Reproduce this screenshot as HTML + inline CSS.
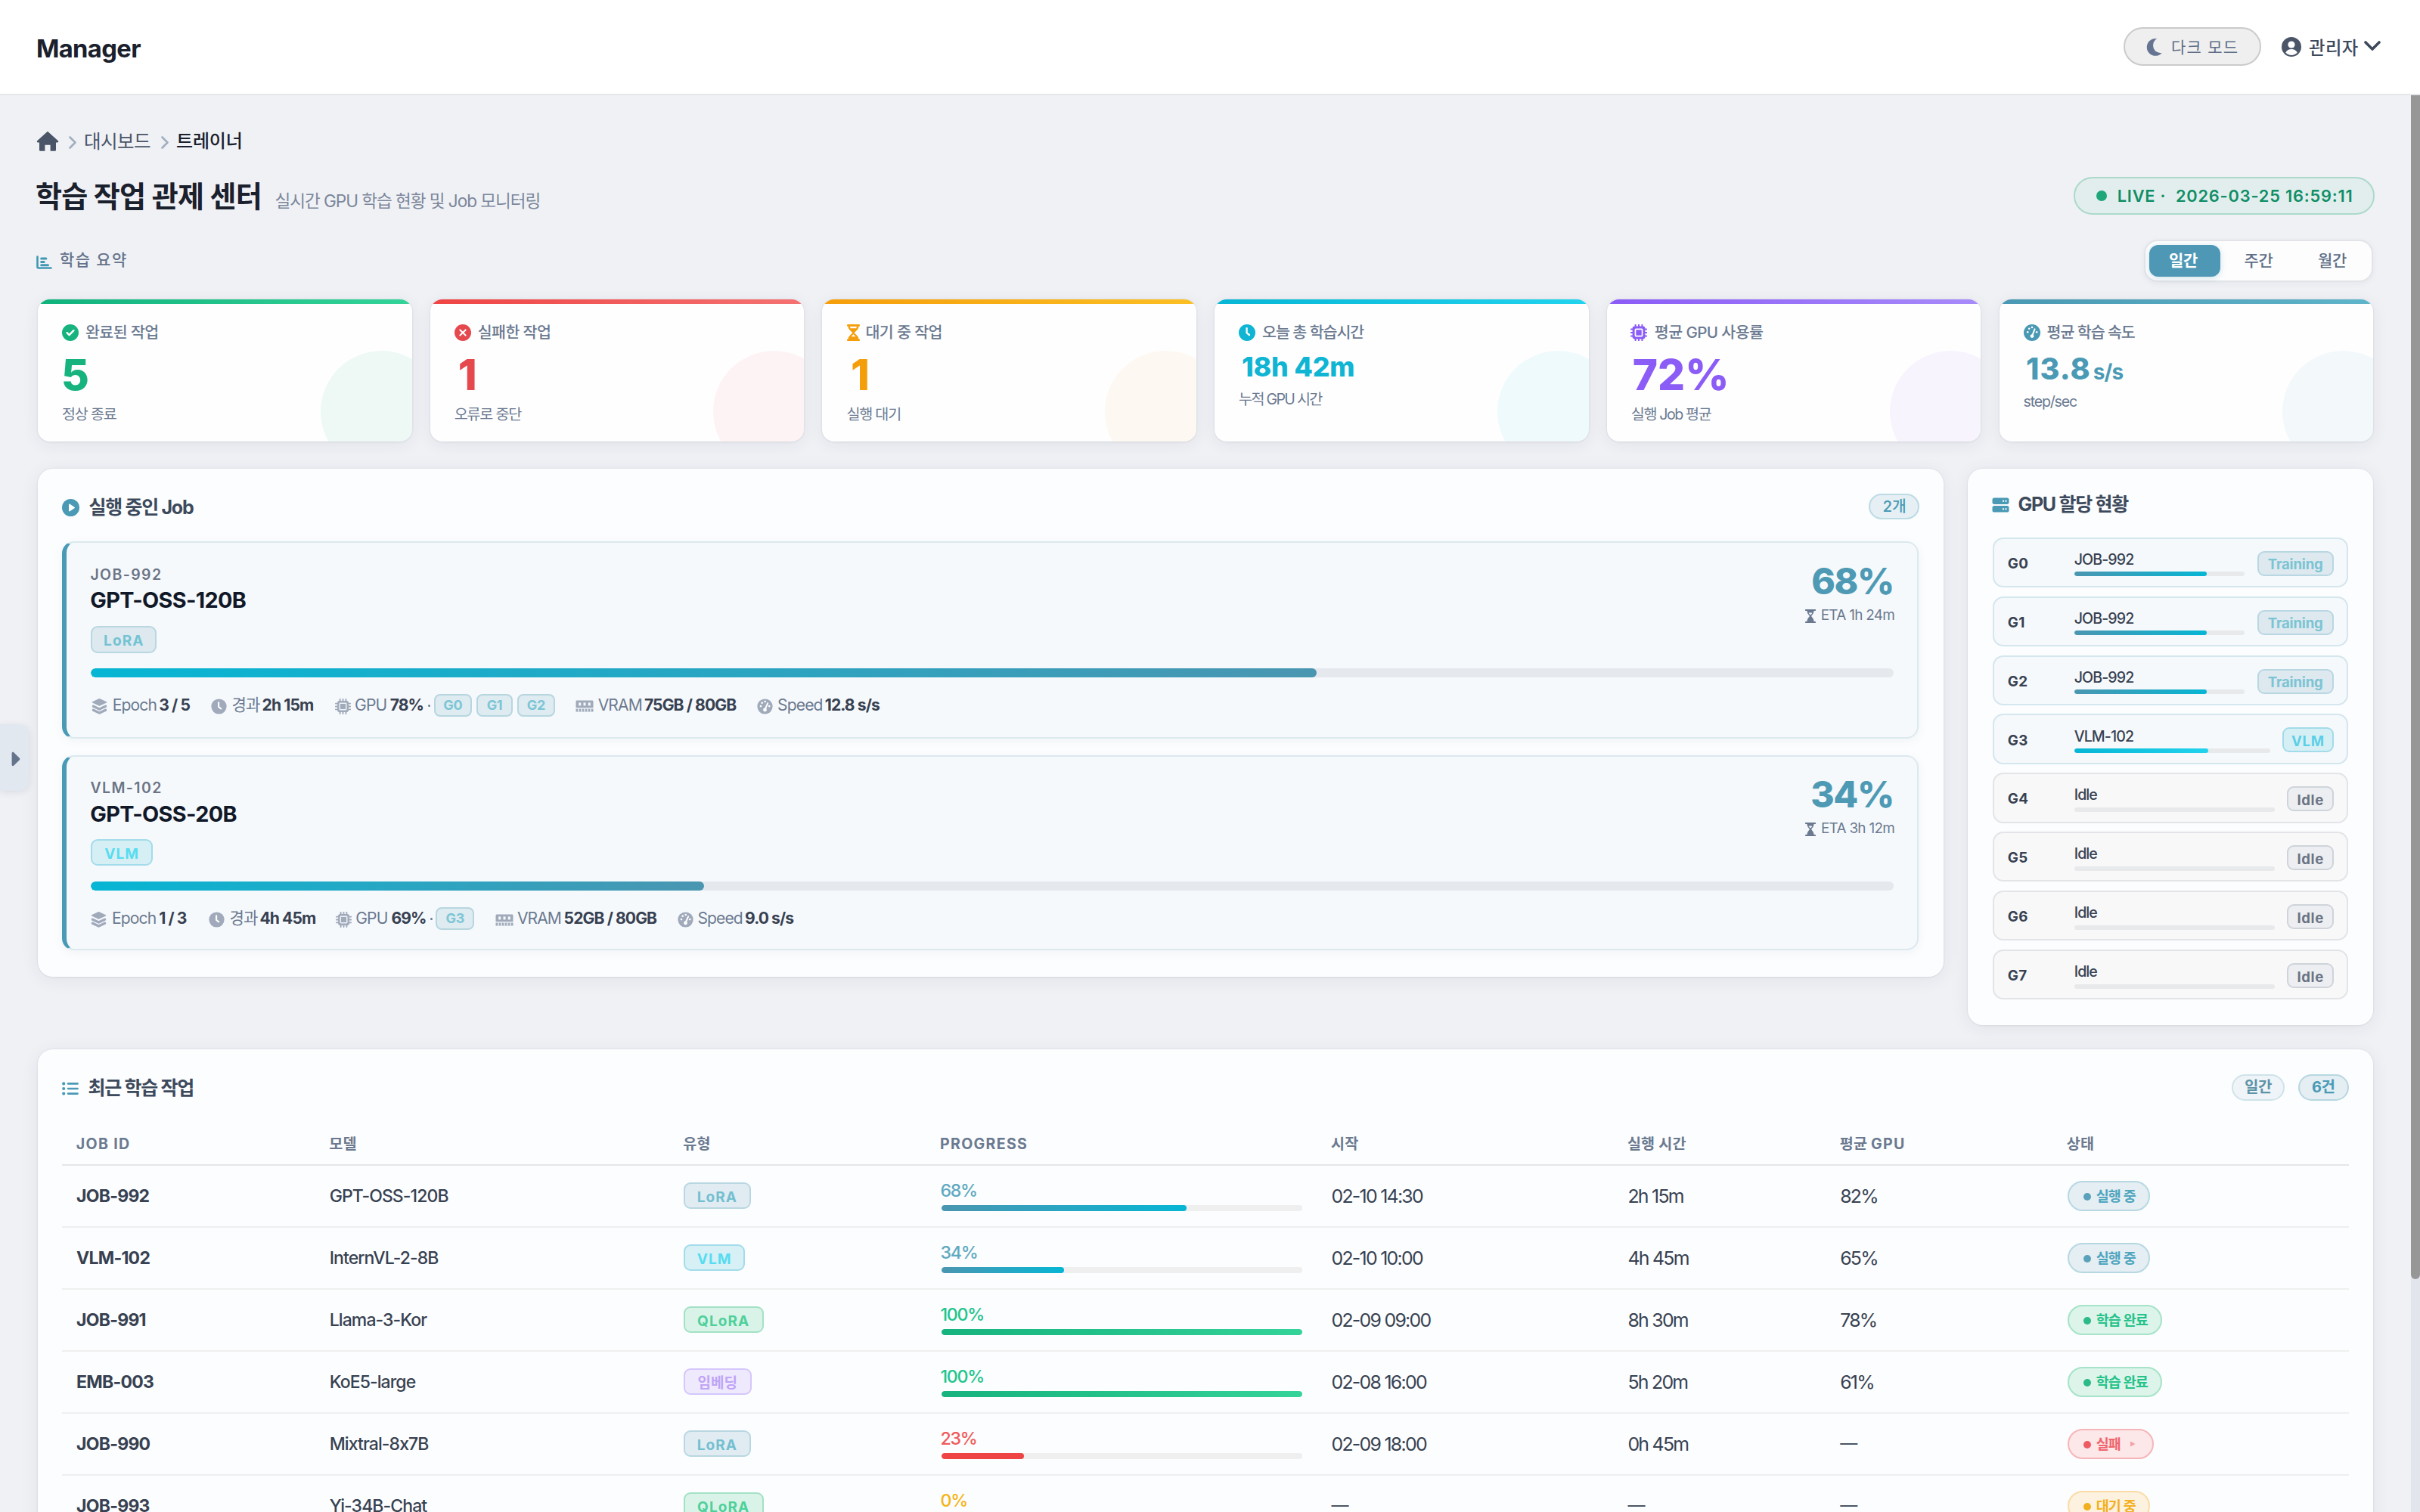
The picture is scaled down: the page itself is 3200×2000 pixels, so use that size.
<!DOCTYPE html>
<html lang="ko">
<head>
<meta charset="utf-8">
<title>학습 작업 관제 센터 - Manager</title>
<style>
*{box-sizing:border-box;margin:0;padding:0}
html,body{width:3200px;height:2000px;overflow:hidden}
@media (max-width:2400px){html{zoom:0.5}}
body{position:relative;background:#f0f1f5;font-family:Inter,"Liberation Sans","Noto Sans CJK KR",sans-serif;color:#1f2937;line-height:1;-webkit-font-smoothing:antialiased}
.a{position:absolute;white-space:nowrap}
svg{display:block}
/* header */
#hdr{position:absolute;left:0;top:0;width:3200px;height:126px;background:#fff;border-bottom:2px solid #e6e7ea}
#logo{left:47.9px;top:48.3px;font-size:32.7px;font-weight:700;letter-spacing:-0.6px;color:#1a202c}
#dark{left:2808px;top:36px;width:182px;height:51px;border:2px solid #cbcbcb;background:#efefef;border-radius:26px}
#dark .t{left:61px;top:14px;font-size:21px;letter-spacing:1.25px;color:#5f6e86}
#admin{left:3053px;top:52px;font-size:23.3px;font-weight:500;letter-spacing:0.5px;color:#3d4a5c}
/* cards */
.card{position:absolute;top:396px;width:494.7px;height:188px;background:#fefeff;border-radius:16px;overflow:hidden;box-shadow:0 0 0 1.5px rgba(0,0,0,0.025),0 4px 22px rgba(30,40,70,0.07),0 1px 3px rgba(30,40,70,0.04)}
.card .bar{position:absolute;left:0;top:0;right:0;height:6px}
.card .circ{position:absolute;left:374px;top:68px;width:161px;height:161px;border-radius:50%}
.card .ic{position:absolute;left:32px;top:33px;width:22px;height:22px}
.card .lb{position:absolute;left:63px;top:33.5px;font-size:20.6px;font-weight:500;letter-spacing:-0.6px;color:#6b7a90;white-space:nowrap}
.card .num{position:absolute;left:31px;top:71.5px;font-size:56.6px;font-weight:800;white-space:nowrap;letter-spacing:-0.5px}
.card .sub{position:absolute;left:32px;top:142.5px;font-size:19.6px;font-weight:400;letter-spacing:-1.2px;color:#6b7a90;white-space:nowrap}
/* panels */
.panel{position:absolute;background:#fcfdfe;border-radius:20px;box-shadow:0 0 0 1.5px rgba(0,0,0,0.025),0 4px 24px rgba(30,40,70,0.07),0 1px 3px rgba(30,40,70,0.04)}
.ptitle{position:absolute;font-size:25px;font-weight:700;letter-spacing:-1.3px;color:#3d4a5c;white-space:nowrap}
.pill{position:absolute;border-radius:40px;text-align:center;white-space:nowrap}
/* job cards */
.job{position:absolute;left:32px;width:2455px;height:260px;background:#f6f9fc;border:2px solid #dce9ef;border-left:6px solid #4a9ab5;border-radius:16px;box-shadow:0 3px 14px rgba(40,90,120,0.06)}
.job .jid{position:absolute;left:32px;font-size:19.5px;font-weight:600;letter-spacing:1.4px;color:#6b7485}
.job .jname{position:absolute;left:32px;font-size:28.8px;font-weight:700;letter-spacing:-0.65px;color:#111827}
.tbadge{position:absolute;border:2px solid;border-radius:9px;font-weight:700;text-align:center;letter-spacing:1.4px}
.job .track{position:absolute;left:32px;height:12px;border-radius:6px;background:#e5e8ec;overflow:hidden}
.job .fill{position:absolute;left:0;top:0;bottom:0;border-radius:6px;background:linear-gradient(90deg,#06b6d4,#4a96b1)}
.job .pct{position:absolute;right:32px;font-size:47.9px;font-weight:800;letter-spacing:-1.4px;color:#4e9ab5;text-align:right}
.job .eta{position:absolute;right:30px;font-size:18.9px;font-weight:400;letter-spacing:-0.7px;color:#6b7a90;display:flex;align-items:center;gap:6.7px}
.mt{font-size:21.1px;letter-spacing:-0.9px;color:#6b7a90}
.mb{font-size:21.1px;font-weight:700;letter-spacing:-0.9px;color:#374151}
.gchip{height:29.4px;border:2px solid #b7d6e0;background:#deebf0;border-radius:8px;color:#7cc6d6;font-weight:700;font-size:18px;line-height:25.4px;text-align:center;letter-spacing:-0.3px}
/* gpu rows */
.grow{position:absolute;left:32.7px;width:470.7px;height:66.3px;border:2px solid #d4e6ee;background:#f6f9fb;border-radius:14px}
.grow.idle{border-color:#e2e4e7;background:#f8f8f9}
.grow .gl{position:absolute;left:18px;top:24.2px;font-size:18.8px;font-weight:700;color:#374151;letter-spacing:0.4px}
.grow .gj{position:absolute;left:106px;top:18.2px;font-size:19.6px;font-weight:500;color:#374151;letter-spacing:-0.9px}
.grow .gt{position:absolute;left:106px;top:43.5px;height:6px;border-radius:3px;background:#e8e9eb;overflow:hidden}
.grow .gf{position:absolute;left:0;top:0;bottom:0;border-radius:3px}
.grow .gb{position:absolute;top:16px;height:33px;border:2px solid;border-radius:9px;font-size:18.6px;font-weight:700;text-align:center;line-height:29px;padding-top:1.6px;letter-spacing:-0.2px}
/* table */
.th{position:absolute;top:1504.3px;font-size:19.6px;font-weight:700;letter-spacing:1.3px;color:#6b7a90;white-space:nowrap}
.td{position:absolute;font-size:23px;color:#374151;white-space:nowrap}
.rline{position:absolute;left:81.6px;width:3024px;height:2px;background:#efefef}
</style>
</head>
<body>
<!-- HEADER -->
<div id="hdr">
  <div class="a" id="logo">Manager</div>
  <div class="a" id="dark">
    <svg class="a" style="left:28px;top:12px" width="24" height="26" viewBox="0 0 24 26"><defs><mask id="mm"><rect width="24" height="26" fill="#fff"/><circle cx="19.2" cy="10" r="10.2" fill="#000"/></mask></defs><circle cx="12.2" cy="12.4" r="11.4" fill="#647491" mask="url(#mm)"/></svg>
    <div class="a t">다크 모드</div>
  </div>
  <svg class="a" style="left:3017px;top:49px" width="26" height="26" viewBox="0 0 26 26"><circle cx="13" cy="13" r="13" fill="#4a5568"/><circle cx="13" cy="10" r="4.6" fill="#fff"/><path d="M5.2 20.6C7 17.3 9.8 15.9 13 15.9S19 17.3 20.8 20.6A10.6 10.6 0 0 1 5.2 20.6Z" fill="#fff"/></svg>
  <div class="a" id="admin">관리자</div>
  <svg class="a" style="left:3126px;top:54px" width="22" height="13" viewBox="0 0 22 13"><path d="M2 2L11 11L20 2" fill="none" stroke="#3d4a5c" stroke-width="3.6" stroke-linecap="round" stroke-linejoin="round"/></svg>
</div>

<!-- BREADCRUMB -->
<svg class="a" style="left:47.5px;top:172.5px" width="30" height="27" viewBox="0 0 30 27"><path d="M15 0.8L1.2 13.2c-0.9 0.8-0.3 2.2 0.9 2.2H4v9.8c0 0.9 0.7 1.6 1.6 1.6h5.8v-8h7.2v8h5.8c0.9 0 1.6-0.7 1.6-1.6V15.4h1.9c1.2 0 1.8-1.4 0.9-2.2Z" fill="#4a5568"/></svg>
<svg class="a" style="left:90px;top:179px" width="12" height="19" viewBox="0 0 12 19"><path d="M2.5 2.5L9.5 9.5L2.5 16.5" fill="none" stroke="#a0aec0" stroke-width="2.6" stroke-linecap="round" stroke-linejoin="round"/></svg>
<div class="a" style="left:111px;top:175px;font-size:24.5px;letter-spacing:-0.5px;color:#4a5568">대시보드</div>
<svg class="a" style="left:211.5px;top:179px" width="12" height="19" viewBox="0 0 12 19"><path d="M2.5 2.5L9.5 9.5L2.5 16.5" fill="none" stroke="#a0aec0" stroke-width="2.6" stroke-linecap="round" stroke-linejoin="round"/></svg>
<div class="a" style="left:233px;top:175px;font-size:24px;font-weight:500;letter-spacing:-0.2px;color:#1a202c">트레이너</div>

<!-- TITLE -->
<div class="a" style="left:47px;top:241px;font-size:38.1px;font-weight:700;letter-spacing:-0.75px;color:#1a202c">학습 작업 관제 센터</div>
<div class="a" style="left:363.5px;top:254.5px;font-size:22.6px;letter-spacing:-1.05px;color:#7b879b">실시간 GPU 학습 현황 및 Job 모니터링</div>
<div class="pill" style="left:2742.4px;top:234px;width:397.3px;height:49.7px;background:#e2eeee;border:2px solid #acd9c9">
  <div class="a" style="left:28px;top:22.5px;width:14px;height:14px;margin-top:-7px;border-radius:50%;background:#1fa679"></div>
  <div class="a" style="left:55.3px;top:13.1px;font-size:21.8px;font-weight:600;letter-spacing:0.8px;color:#108e66">LIVE ·&nbsp; 2026-03-25 16:59:11</div>
</div>

<!-- SECTION LABEL -->
<svg class="a" style="left:47.5px;top:337.5px" width="21" height="18" viewBox="0 0 21 18"><path d="M1.5 1.5V15c0 0.9 0.6 1.5 1.5 1.5H19.5" fill="none" stroke="#3f98b4" stroke-width="2.6" stroke-linecap="round"/><rect x="5.2" y="2.6" width="9.2" height="3" rx="1.5" fill="#3f98b4"/><rect x="5.2" y="6.9" width="6.4" height="3" rx="1.5" fill="#3f98b4"/><rect x="5.2" y="11.2" width="11.8" height="3" rx="1.5" fill="#3f98b4"/></svg>
<div class="a" style="left:79px;top:333.5px;font-size:20.9px;font-weight:500;letter-spacing:1.45px;color:#64738b">학습 요약</div>
<div class="a" style="left:2835px;top:316.8px;width:303.4px;height:55.8px;background:#fdfdfe;border:2px solid #e2e4e8;border-radius:18px;box-shadow:0 2px 8px rgba(30,40,70,0.05)">
  <div class="a" style="left:5px;top:5.2px;width:94px;height:42px;background:#4e98b5;border-radius:12px;box-shadow:0 2px 8px rgba(78,152,181,0.25)"></div>
  <div class="a" style="left:31px;top:15px;font-size:21px;font-weight:600;color:#fff;letter-spacing:-0.3px">일간</div>
  <div class="a" style="left:130.5px;top:15px;font-size:21px;font-weight:500;color:#5f6e86;letter-spacing:-0.3px">주간</div>
  <div class="a" style="left:228px;top:15px;font-size:21px;font-weight:500;color:#5f6e86;letter-spacing:-0.3px">월간</div>
</div>

<!-- STAT CARDS -->
<div class="card" style="left:50px">
  <div class="bar" style="background:linear-gradient(90deg,#10b27c,#34d399)"></div>
  <div class="circ" style="background:rgba(16,178,124,0.065)"></div>
  <svg class="ic" viewBox="0 0 22 22"><circle cx="11" cy="11" r="11" fill="#16b37e"/><path d="M6.6 11.2l3 3 5.8-6" fill="none" stroke="#fff" stroke-width="2.4" stroke-linecap="round" stroke-linejoin="round"/></svg>
  <div class="lb">완료된 작업</div>
  <div class="num" style="color:#16b37e">5</div>
  <div class="sub">정상 종료</div>
</div>
<div class="card" style="left:568.7px">
  <div class="bar" style="background:linear-gradient(90deg,#ef4444,#f47272)"></div>
  <div class="circ" style="background:rgba(239,68,68,0.06)"></div>
  <svg class="ic" viewBox="0 0 22 22"><circle cx="11" cy="11" r="11" fill="#e5484d"/><path d="M7.4 7.4l7.2 7.2M14.6 7.4l-7.2 7.2" fill="none" stroke="#fff" stroke-width="2.1" stroke-linecap="round"/></svg>
  <div class="lb">실패한 작업</div>
  <div class="num" style="color:#e5484d;left:37px">1</div>
  <div class="sub">오류로 중단</div>
</div>
<div class="card" style="left:1087.4px">
  <div class="bar" style="background:linear-gradient(90deg,#f59e0b,#fbbf24)"></div>
  <div class="circ" style="background:rgba(245,158,11,0.06)"></div>
  <svg class="ic" style="left:32.4px;top:32.7px;width:17px;height:22.3px" viewBox="0 0 17 22.3"><rect x="0" y="0" width="17" height="2.7" rx="1.3" fill="#f59e0b"/><rect x="0" y="19.6" width="17" height="2.7" rx="1.3" fill="#f59e0b"/><path d="M1.4 2.4H15.6C15.6 6.5 11.6 8.6 9.7 11.15 11.6 13.7 15.6 15.8 15.6 19.9H1.4C1.4 15.8 5.4 13.7 7.3 11.15 5.4 8.6 1.4 6.5 1.4 2.4Z" fill="#f59e0b"/><rect x="4.3" y="3" width="8.3" height="2.3" rx="0.6" fill="#fff"/><path d="M8.5 13.2L11.4 16.3H5.6Z" fill="#fff"/></svg>
  <div class="lb" style="left:57px">대기 중 작업</div>
  <div class="num" style="color:#f59e0b;left:37.5px">1</div>
  <div class="sub">실행 대기</div>
</div>
<div class="card" style="left:1606.1px">
  <div class="bar" style="background:linear-gradient(90deg,#06b6d4,#22d3ee)"></div>
  <div class="circ" style="background:rgba(6,182,212,0.06)"></div>
  <svg class="ic" viewBox="0 0 22 22"><circle cx="11" cy="11" r="11" fill="#0fb5d3"/><path d="M10.6 5.2v6.2l3.4 2.6" fill="none" stroke="#fff" stroke-width="2.3" stroke-linecap="round" stroke-linejoin="round"/></svg>
  <div class="lb" style="letter-spacing:-1.05px">오늘 총 학습시간</div>
  <div class="num" style="top:72px;font-size:35.8px;left:35.8px;letter-spacing:-0.2px;color:#0fb5d3">18h 42m</div>
  <div class="sub" style="top:123px;letter-spacing:-1.7px">누적 GPU 시간</div>
</div>
<div class="card" style="left:2124.8px">
  <div class="bar" style="background:linear-gradient(90deg,#8b5cf6,#a78bfa)"></div>
  <div class="circ" style="background:rgba(139,92,246,0.06)"></div>
  <svg class="ic" style="left:31px" viewBox="0 0 22 22"><rect x="2.6" y="2.6" width="16.8" height="16.8" rx="2.8" fill="#8b5cf6"/><rect x="5.6" y="5.6" width="10.8" height="10.8" rx="1.6" fill="#fff"/><rect x="7.3" y="7.3" width="7.4" height="7.4" fill="#8b5cf6"/><path d="M6.6 0.8v3M11 0.8v3M15.4 0.8v3M6.6 18.2v3M11 18.2v3M15.4 18.2v3M0.8 6.6h3M0.8 11h3M0.8 15.4h3M18.2 6.6h3M18.2 11h3M18.2 15.4h3" stroke="#8b5cf6" stroke-width="2" stroke-linecap="round"/></svg>
  <div class="lb">평균 GPU 사용률</div>
  <div class="num" style="color:#8b5cf6;letter-spacing:0px;left:34px">72%</div>
  <div class="sub" style="letter-spacing:-1.4px">실행 Job 평균</div>
</div>
<div class="card" style="left:2643.5px">
  <div class="bar" style="background:linear-gradient(90deg,#4a98b3,#5fb5c9)"></div>
  <div class="circ" style="background:rgba(74,152,179,0.06)"></div>
  <svg class="ic" viewBox="0 0 22 22"><circle cx="11" cy="11" r="11" fill="#4a98b3"/><circle cx="5.2" cy="10.3" r="1.3" fill="#fff"/><circle cx="7.2" cy="5.8" r="1.3" fill="#fff"/><circle cx="11" cy="4" r="1.3" fill="#fff"/><circle cx="17.2" cy="10.3" r="1.3" fill="#fff"/><path d="M11.2 15.2L14.6 6.4" stroke="#fff" stroke-width="2" stroke-linecap="round"/><circle cx="11" cy="15.6" r="2.4" fill="#fff"/></svg>
  <div class="lb" style="letter-spacing:-1.05px">평균 학습 속도</div>
  <div class="num" style="top:73.4px;font-size:39.5px;left:35.6px;letter-spacing:1px;color:#4b9ab5">13.8<span style="font-size:28px;font-weight:700;letter-spacing:-0.8px;margin-left:3px">s/s</span></div>
  <div class="sub" style="top:125.8px;font-size:19.6px;letter-spacing:-1.2px">step/sec</div>
</div>

<!-- RUNNING JOBS PANEL -->
<div class="panel" style="left:50px;top:620px;width:2519.6px;height:671.6px">
  <svg class="a" style="left:31.7px;top:40.4px" width="23" height="23" viewBox="0 0 23 23"><circle cx="11.5" cy="11.5" r="11.5" fill="#4a9ab5"/><path d="M9 7.2v8.6c0 0.6 0.6 0.9 1.1 0.6l6.6-4.3c0.4-0.3 0.4-0.9 0-1.2L10.1 6.6C9.6 6.3 9 6.6 9 7.2Z" fill="#fff"/></svg>
  <div class="ptitle" style="left:67.5px;top:39.3px">실행 중인 Job</div>
  <div class="pill" style="left:2420.6px;top:32.7px;width:67px;height:34.7px;background:#e6eff4;border:2px solid #bcdbe4;font-size:20.4px;font-weight:500;color:#4a9ab5;line-height:30.7px;letter-spacing:0px;padding-left:2px">2개</div>
</div>
<div class="job" style="left:82.1px;top:716.2px;height:260.5px">
  <div class="jid" style="left:31.3px;top:32.4px">JOB-992</div>
  <div class="jname" style="left:31.1px;top:62.3px">GPT-OSS-120B</div>
  <div class="tbadge" style="left:32.3px;top:110.0px;width:86.8px;height:35.4px;background:#dde9ef;border-color:#b8d7e2;color:#73c3d3;font-size:19px;line-height:31.4px;padding-top:1.5px;letter-spacing:1.1px">LoRA</div>
  <div class="track" style="left:32.3px;top:165.8px;width:2383.3px"><div class="fill" style="width:68%"></div></div>
  <div class="pct" style="right:31.3px;top:27.8px">68%</div>
  <div class="eta" style="right:30.0px;top:87.1px"><svg width="14" height="18" viewBox="0 0 14 18"><path d="M1 1h12M1 17h12" stroke="#6b7a90" stroke-width="2.2" stroke-linecap="round"/><path d="M2.4 1.8h9.2c0 3.4-2.2 5.2-3.5 7.2 1.3 2 3.5 3.8 3.5 7.2H2.4c0-3.4 2.2-5.2 3.5-7.2C4.6 7 2.4 5.2 2.4 1.8Z" fill="#6b7a90"/><path d="M4.6 4.4h4.8c-0.5 1.3-1.4 2.2-2.4 3.2-1-1-1.9-1.9-2.4-3.2Z" fill="#f6f9fc"/></svg>ETA 1h 24m</div>
  <div class="a" style="left:32.7px;top:205.8px"><svg width="21" height="21" viewBox="0 0 20.2 21"><path d="M10.1 0.6L19.2 4.9 10.1 9.3 1 4.9Z" fill="#a0aabb" stroke="#a0aabb" stroke-width="1.2" stroke-linejoin="round"/><path d="M2 10.3L10.1 14.1 18.2 10.3" fill="none" stroke="#a0aabb" stroke-width="3.3" stroke-linecap="round" stroke-linejoin="round"/><path d="M2 15.2L10.1 19 18.2 15.2" fill="none" stroke="#a0aabb" stroke-width="3.4" stroke-linecap="round" stroke-linejoin="round"/></svg></div>
  <div class="a mt" style="left:60.6px;top:203.5px">Epoch</div>
  <div class="a mb" style="left:122.2px;top:203.5px">3 / 5</div>
  <div class="a" style="left:191.2px;top:205.8px"><svg width="21" height="21" viewBox="0 0 21 21"><circle cx="10.5" cy="10.5" r="10.1" fill="#a0aabb"/><path d="M10.1 5.3v5.7l3.1 2.3" fill="none" stroke="#fff" stroke-width="2.1" stroke-linecap="round" stroke-linejoin="round"/></svg></div>
  <div class="a mt" style="left:218.4px;top:203.5px">경과</div>
  <div class="a mb" style="left:258.5px;top:203.5px">2h 15m</div>
  <div class="a" style="left:354.8px;top:205.8px"><svg width="21" height="21" viewBox="0 0 21 21"><rect x="3.1" y="3.1" width="14.8" height="14.8" rx="2.6" fill="#a0aabb"/><rect x="5.5" y="5.5" width="10" height="10" rx="1.4" fill="#eef2f6"/><rect x="7" y="7" width="7" height="7" fill="#a0aabb"/><path d="M6.6 0.9v3M10.5 0.9v3M14.4 0.9v3M6.6 17.1v3M10.5 17.1v3M14.4 17.1v3M0.9 6.6h3M0.9 10.5h3M0.9 14.4h3M17.1 6.6h3M17.1 10.5h3M17.1 14.4h3" stroke="#a0aabb" stroke-width="1.9" stroke-linecap="round"/></svg></div>
  <div class="a mt" style="left:381.0px;top:203.5px">GPU</div>
  <div class="a mb" style="left:427.6px;top:203.5px">78%</div>
  <div class="a" style="left:477.9px;top:214.0px;width:3px;height:3px;border-radius:50%;background:#6b7a90"></div>
  <div class="a gchip" style="left:485.9px;top:200.0px;width:49.8px">G0</div>
  <div class="a gchip" style="left:542.1px;top:200.0px;width:47.6px">G1</div>
  <div class="a gchip" style="left:596.0px;top:200.0px;width:49.8px">G2</div>
  <div class="a" style="left:673.3px;top:208.3px"><svg width="24" height="16" viewBox="0 0 24 16"><path d="M0.5 2C0.5 1.2 1.2 0.5 2 0.5h20c0.8 0 1.5 0.7 1.5 1.5v8.2H0.5Z" fill="#a0aabb"/><rect x="4.2" y="3.4" width="3" height="4" fill="#f6f9fc"/><rect x="10.5" y="3.4" width="3" height="4" fill="#f6f9fc"/><rect x="16.8" y="3.4" width="3" height="4" fill="#f6f9fc"/><path d="M0.5 11.6h23v3.9H0.5Z" fill="#a0aabb"/><path d="M4 11.6v4M8 11.6v4M12 11.6v4M16 11.6v4M20 11.6v4" stroke="#f6f9fc" stroke-width="1.3"/></svg></div>
  <div class="a mt" style="left:702.6px;top:203.5px">VRAM</div>
  <div class="a mb" style="left:763.8px;top:203.5px">75GB / 80GB</div>
  <div class="a" style="left:912.9px;top:205.8px"><svg width="21" height="21" viewBox="0 0 22 22"><circle cx="11" cy="11" r="10.6" fill="#a0aabb"/><circle cx="5.2" cy="10.6" r="1.4" fill="#fff"/><circle cx="7" cy="6" r="1.4" fill="#fff"/><circle cx="11.2" cy="4.2" r="1.4" fill="#fff"/><circle cx="17" cy="10.6" r="1.4" fill="#fff"/><path d="M11 15.2L14.8 6.6" stroke="#fff" stroke-width="2.1" stroke-linecap="round"/><circle cx="11" cy="15.6" r="2.5" fill="#fff"/></svg></div>
  <div class="a mt" style="left:940.0px;top:203.5px">Speed</div>
  <div class="a mb" style="left:1002.6px;top:203.5px">12.8 s/s</div>
</div>
<div class="job" style="left:82.1px;top:999.3px;height:258px">
  <div class="jid" style="left:31.3px;top:31.4px">VLM-102</div>
  <div class="jname" style="left:31.1px;top:61.3px">GPT-OSS-20B</div>
  <div class="tbadge" style="left:32.3px;top:109.0px;width:81.6px;height:34.4px;background:#d6eff5;border-color:#a2dcea;color:#58dcf0;font-size:19px;line-height:30.4px;padding-top:2.4px;letter-spacing:1.1px">VLM</div>
  <div class="track" style="left:32.3px;top:164.8px;width:2383.3px"><div class="fill" style="width:34%"></div></div>
  <div class="pct" style="right:31.3px;top:26.8px">34%</div>
  <div class="eta" style="right:30.0px;top:86.1px"><svg width="14" height="18" viewBox="0 0 14 18"><path d="M1 1h12M1 17h12" stroke="#6b7a90" stroke-width="2.2" stroke-linecap="round"/><path d="M2.4 1.8h9.2c0 3.4-2.2 5.2-3.5 7.2 1.3 2 3.5 3.8 3.5 7.2H2.4c0-3.4 2.2-5.2 3.5-7.2C4.6 7 2.4 5.2 2.4 1.8Z" fill="#6b7a90"/><path d="M4.6 4.4h4.8c-0.5 1.3-1.4 2.2-2.4 3.2-1-1-1.9-1.9-2.4-3.2Z" fill="#f6f9fc"/></svg>ETA 3h 12m</div>
  <div class="a" style="left:32.3px;top:204.8px"><svg width="21" height="21" viewBox="0 0 20.2 21"><path d="M10.1 0.6L19.2 4.9 10.1 9.3 1 4.9Z" fill="#a0aabb" stroke="#a0aabb" stroke-width="1.2" stroke-linejoin="round"/><path d="M2 10.3L10.1 14.1 18.2 10.3" fill="none" stroke="#a0aabb" stroke-width="3.3" stroke-linecap="round" stroke-linejoin="round"/><path d="M2 15.2L10.1 19 18.2 15.2" fill="none" stroke="#a0aabb" stroke-width="3.4" stroke-linecap="round" stroke-linejoin="round"/></svg></div>
  <div class="a mt" style="left:59.9px;top:202.5px">Epoch</div>
  <div class="a mb" style="left:122.1px;top:202.5px">1 / 3</div>
  <div class="a" style="left:187.6px;top:204.8px"><svg width="21" height="21" viewBox="0 0 21 21"><circle cx="10.5" cy="10.5" r="10.1" fill="#a0aabb"/><path d="M10.1 5.3v5.7l3.1 2.3" fill="none" stroke="#fff" stroke-width="2.1" stroke-linecap="round" stroke-linejoin="round"/></svg></div>
  <div class="a mt" style="left:215.3px;top:202.5px">경과</div>
  <div class="a mb" style="left:255.3px;top:202.5px">4h 45m</div>
  <div class="a" style="left:355.7px;top:204.8px"><svg width="21" height="21" viewBox="0 0 21 21"><rect x="3.1" y="3.1" width="14.8" height="14.8" rx="2.6" fill="#a0aabb"/><rect x="5.5" y="5.5" width="10" height="10" rx="1.4" fill="#eef2f6"/><rect x="7" y="7" width="7" height="7" fill="#a0aabb"/><path d="M6.6 0.9v3M10.5 0.9v3M14.4 0.9v3M6.6 17.1v3M10.5 17.1v3M14.4 17.1v3M0.9 6.6h3M0.9 10.5h3M0.9 14.4h3M17.1 6.6h3M17.1 10.5h3M17.1 14.4h3" stroke="#a0aabb" stroke-width="1.9" stroke-linecap="round"/></svg></div>
  <div class="a mt" style="left:382.2px;top:202.5px">GPU</div>
  <div class="a mb" style="left:429.3px;top:202.5px">69%</div>
  <div class="a" style="left:480.9px;top:213.0px;width:3px;height:3px;border-radius:50%;background:#6b7a90"></div>
  <div class="a gchip" style="left:488.4px;top:199.0px;width:50.8px">G3</div>
  <div class="a" style="left:567.1px;top:207.3px"><svg width="24" height="16" viewBox="0 0 24 16"><path d="M0.5 2C0.5 1.2 1.2 0.5 2 0.5h20c0.8 0 1.5 0.7 1.5 1.5v8.2H0.5Z" fill="#a0aabb"/><rect x="4.2" y="3.4" width="3" height="4" fill="#f6f9fc"/><rect x="10.5" y="3.4" width="3" height="4" fill="#f6f9fc"/><rect x="16.8" y="3.4" width="3" height="4" fill="#f6f9fc"/><path d="M0.5 11.6h23v3.9H0.5Z" fill="#a0aabb"/><path d="M4 11.6v4M8 11.6v4M12 11.6v4M16 11.6v4M20 11.6v4" stroke="#f6f9fc" stroke-width="1.3"/></svg></div>
  <div class="a mt" style="left:595.8px;top:202.5px">VRAM</div>
  <div class="a mb" style="left:657.5px;top:202.5px">52GB / 80GB</div>
  <div class="a" style="left:807.7px;top:204.8px"><svg width="21" height="21" viewBox="0 0 22 22"><circle cx="11" cy="11" r="10.6" fill="#a0aabb"/><circle cx="5.2" cy="10.6" r="1.4" fill="#fff"/><circle cx="7" cy="6" r="1.4" fill="#fff"/><circle cx="11.2" cy="4.2" r="1.4" fill="#fff"/><circle cx="17" cy="10.6" r="1.4" fill="#fff"/><path d="M11 15.2L14.8 6.6" stroke="#fff" stroke-width="2.1" stroke-linecap="round"/><circle cx="11" cy="15.6" r="2.5" fill="#fff"/></svg></div>
  <div class="a mt" style="left:834.3px;top:202.5px">Speed</div>
  <div class="a mb" style="left:896.9px;top:202.5px">9.0 s/s</div>
</div>
<!-- GPU PANEL -->
<div class="panel" style="left:2602px;top:620px;width:536px;height:735.6px">
  <svg class="a" style="left:32px;top:38px" width="23" height="20" viewBox="0 0 23 20"><rect x="0.5" y="0.5" width="22" height="8.4" rx="2.6" fill="#4a9ab5"/><rect x="0.5" y="11.1" width="22" height="8.4" rx="2.6" fill="#4a9ab5"/><rect x="14" y="3.7" width="2" height="2" fill="#fff"/><rect x="17.4" y="3.7" width="2" height="2" fill="#fff"/><rect x="14" y="14.3" width="2" height="2" fill="#fff"/><rect x="17.4" y="14.3" width="2" height="2" fill="#fff"/></svg>
  <div class="ptitle" style="left:66.5px;top:34.5px">GPU 할당 현황</div>
  <div class="grow" style="top:90.7px">
    <div class="gl">G0</div><div class="gj">JOB-992</div>
    <div class="gt" style="width:225.3px"><div class="gf" style="width:78%;background:linear-gradient(90deg,#4a96b1,#06b6d4)"></div></div>
    <div class="gb" style="right:17.6px;width:101.2px;background:#dde9ef;border-color:#b8d7e2;color:#7cc4d4">Training</div>
  </div>
  <div class="grow" style="top:168.6px">
    <div class="gl">G1</div><div class="gj">JOB-992</div>
    <div class="gt" style="width:225.3px"><div class="gf" style="width:78%;background:linear-gradient(90deg,#4a96b1,#06b6d4)"></div></div>
    <div class="gb" style="right:17.6px;width:101.2px;background:#dde9ef;border-color:#b8d7e2;color:#7cc4d4">Training</div>
  </div>
  <div class="grow" style="top:246.5px">
    <div class="gl">G2</div><div class="gj">JOB-992</div>
    <div class="gt" style="width:225.3px"><div class="gf" style="width:78%;background:linear-gradient(90deg,#4a96b1,#06b6d4)"></div></div>
    <div class="gb" style="right:17.6px;width:101.2px;background:#dde9ef;border-color:#b8d7e2;color:#7cc4d4">Training</div>
  </div>
  <div class="grow" style="top:324.4px">
    <div class="gl">G3</div><div class="gj">VLM-102</div>
    <div class="gt" style="width:259.1px"><div class="gf" style="width:68.4%;background:linear-gradient(90deg,#06b6d4,#22d3ee)"></div></div>
    <div class="gb" style="right:17.6px;width:67.7px;background:#d6eff5;border-color:#a2dcea;color:#5ccfe7;letter-spacing:0.8px">VLM</div>
  </div>
  <div class="grow idle" style="top:402.3px">
    <div class="gl">G4</div><div class="gj">Idle</div>
    <div class="gt" style="width:265.5px"><div class="gf" style="width:0%;background:none"></div></div>
    <div class="gb" style="right:17.6px;width:61.3px;background:#eceef1;border-color:#cfd4db;color:#6b7485;letter-spacing:0.6px">Idle</div>
  </div>
  <div class="grow idle" style="top:480.2px">
    <div class="gl">G5</div><div class="gj">Idle</div>
    <div class="gt" style="width:265.5px"><div class="gf" style="width:0%;background:none"></div></div>
    <div class="gb" style="right:17.6px;width:61.3px;background:#eceef1;border-color:#cfd4db;color:#6b7485;letter-spacing:0.6px">Idle</div>
  </div>
  <div class="grow idle" style="top:558.1px">
    <div class="gl">G6</div><div class="gj">Idle</div>
    <div class="gt" style="width:265.5px"><div class="gf" style="width:0%;background:none"></div></div>
    <div class="gb" style="right:17.6px;width:61.3px;background:#eceef1;border-color:#cfd4db;color:#6b7485;letter-spacing:0.6px">Idle</div>
  </div>
  <div class="grow idle" style="top:636.0px">
    <div class="gl">G7</div><div class="gj">Idle</div>
    <div class="gt" style="width:265.5px"><div class="gf" style="width:0%;background:none"></div></div>
    <div class="gb" style="right:17.6px;width:61.3px;background:#eceef1;border-color:#cfd4db;color:#6b7485;letter-spacing:0.6px">Idle</div>
  </div>
</div>
<!-- RECENT TABLE PANEL -->
<div class="panel" style="left:50px;top:1387.8px;width:3088.2px;height:800px;border-radius:20px">
  <svg class="a" style="left:32.4px;top:42.8px" width="22" height="18" viewBox="0 0 22 18"><circle cx="2.2" cy="2.4" r="2.1" fill="#4a9ab5"/><circle cx="2.2" cy="9" r="2.1" fill="#4a9ab5"/><circle cx="2.2" cy="15.6" r="2.1" fill="#4a9ab5"/><rect x="6.8" y="1.1" width="15" height="2.6" rx="1.3" fill="#4a9ab5"/><rect x="6.8" y="7.7" width="15" height="2.6" rx="1.3" fill="#4a9ab5"/><rect x="6.8" y="14.3" width="15" height="2.6" rx="1.3" fill="#4a9ab5"/></svg>
  <div class="ptitle" style="left:66.5px;top:39.4px">최근 학습 작업</div>
  <div class="pill" style="left:2900.6px;top:32.8px;width:70.6px;height:35px;background:#eef4f7;border:2px solid #cfe3ea;font-size:20px;font-weight:600;color:#5f93a8;line-height:31px;letter-spacing:-0.5px">일간</div>
  <div class="pill" style="left:2988.7px;top:32.8px;width:67px;height:35px;background:#e4eef3;border:2px solid #b7d7e1;font-size:20px;font-weight:700;color:#4a9ab5;line-height:31px;letter-spacing:-0.5px">6건</div>
</div>
<div class="th" style="left:100.8px">JOB ID</div>
<div class="th" style="left:435.2px;letter-spacing:0.2px">모델</div>
<div class="th" style="left:903.2px;letter-spacing:0.2px">유형</div>
<div class="th" style="left:1243.0px">PROGRESS</div>
<div class="th" style="left:1760.0px;letter-spacing:0.2px">시작</div>
<div class="th" style="left:2151.9px;letter-spacing:0.2px">실행 시간</div>
<div class="th" style="left:2432.7px;letter-spacing:0.2px">평균 <span style="letter-spacing:1.3px">GPU</span></div>
<div class="th" style="left:2732.7px;letter-spacing:0.2px">상태</div>
<div class="rline" style="top:1540px;background:#e6e6e6"></div>
<div class="td" style="left:101.1px;top:1570.9px;font-weight:700;letter-spacing:-0.75px">JOB-992</div>
<div class="td" style="left:435.7px;top:1570.6px;font-weight:500;letter-spacing:-0.9px">GPT-OSS-120B</div>
<div class="tbadge" style="left:903.7px;top:1564.1px;width:89.5px;height:35.4px;padding-top:2px;background:#e1ecf2;border-color:#b8d7e2;color:#73bfd1;font-size:19px;line-height:31px;letter-spacing:1.05px">LoRA</div>
<div class="td" style="left:1243.5px;top:1563.9px;font-size:23.2px;font-weight:500;letter-spacing:-1.3px;color:#5ea9c0">68%</div>
<div class="a" style="left:1244.5px;top:1593.8px;width:477.5px;height:8px;border-radius:4px;background:#efefef;overflow:hidden"><div style="width:68%;height:100%;border-radius:4px;background:linear-gradient(90deg,#4a96b1,#06b6d4)"></div></div>
<div class="td" style="left:1760.5px;top:1569.6px;font-size:24.8px;font-weight:400;letter-spacing:-1.7px">02-10 14:30</div>
<div class="td" style="left:2152.4px;top:1569.6px;font-size:24.8px;font-weight:400;letter-spacing:-1.7px">2h 15m</div>
<div class="td" style="left:2433.2px;top:1569.6px;font-size:24.8px;font-weight:400;letter-spacing:-1.7px">82%</div>
<div class="pill" style="left:2734.2px;top:1562.0px;width:109.1px;height:39.6px;background:#e4eef3;border:2px solid #b7d8e2;color:#4fa5be;font-size:18.5px;font-weight:600;line-height:36px;text-align:left;padding-left:19px;letter-spacing:-0.9px"><span style="display:inline-block;width:10px;height:10px;border-radius:50%;background:#5aa2bc;margin-right:6.5px;vertical-align:1px;letter-spacing:0"></span>실행 중</div>
<div class="rline" style="top:1622px"></div>
<div class="td" style="left:101.1px;top:1652.9px;font-weight:700;letter-spacing:-0.75px">VLM-102</div>
<div class="td" style="left:435.7px;top:1652.6px;font-weight:500;letter-spacing:-0.9px">InternVL-2-8B</div>
<div class="tbadge" style="left:903.7px;top:1646.1px;width:81.8px;height:35.4px;padding-top:2px;background:#d6f0f6;border-color:#a2dcea;color:#58dcf0;font-size:19px;line-height:31px;letter-spacing:1.05px">VLM</div>
<div class="td" style="left:1243.5px;top:1645.9px;font-size:23.2px;font-weight:500;letter-spacing:-1.3px;color:#5ea9c0">34%</div>
<div class="a" style="left:1244.5px;top:1675.8px;width:477.5px;height:8px;border-radius:4px;background:#efefef;overflow:hidden"><div style="width:34%;height:100%;border-radius:4px;background:linear-gradient(90deg,#4a96b1,#06b6d4)"></div></div>
<div class="td" style="left:1760.5px;top:1651.6px;font-size:24.8px;font-weight:400;letter-spacing:-1.7px">02-10 10:00</div>
<div class="td" style="left:2152.4px;top:1651.6px;font-size:24.8px;font-weight:400;letter-spacing:-1.7px">4h 45m</div>
<div class="td" style="left:2433.2px;top:1651.6px;font-size:24.8px;font-weight:400;letter-spacing:-1.7px">65%</div>
<div class="pill" style="left:2734.2px;top:1644.0px;width:109.1px;height:39.6px;background:#e4eef3;border:2px solid #b7d8e2;color:#4fa5be;font-size:18.5px;font-weight:600;line-height:36px;text-align:left;padding-left:19px;letter-spacing:-0.9px"><span style="display:inline-block;width:10px;height:10px;border-radius:50%;background:#5aa2bc;margin-right:6.5px;vertical-align:1px;letter-spacing:0"></span>실행 중</div>
<div class="rline" style="top:1704px"></div>
<div class="td" style="left:101.1px;top:1734.9px;font-weight:700;letter-spacing:-0.75px">JOB-991</div>
<div class="td" style="left:435.7px;top:1734.6px;font-weight:500;letter-spacing:-0.9px">Llama-3-Kor</div>
<div class="tbadge" style="left:903.7px;top:1728.1px;width:105.9px;height:35.4px;padding-top:2px;background:#d9f3e8;border-color:#a3e1c6;color:#4fd09b;font-size:19px;line-height:31px;letter-spacing:1.05px">QLoRA</div>
<div class="td" style="left:1243.5px;top:1727.9px;font-size:23.2px;font-weight:500;letter-spacing:-1.3px;color:#22c58b">100%</div>
<div class="a" style="left:1244.5px;top:1757.8px;width:477.5px;height:8px;border-radius:4px;background:#efefef;overflow:hidden"><div style="width:100%;height:100%;border-radius:4px;background:linear-gradient(90deg,#16b37e,#34d399)"></div></div>
<div class="td" style="left:1760.5px;top:1733.6px;font-size:24.8px;font-weight:400;letter-spacing:-1.7px">02-09 09:00</div>
<div class="td" style="left:2152.4px;top:1733.6px;font-size:24.8px;font-weight:400;letter-spacing:-1.7px">8h 30m</div>
<div class="td" style="left:2433.2px;top:1733.6px;font-size:24.8px;font-weight:400;letter-spacing:-1.7px">78%</div>
<div class="pill" style="left:2734.2px;top:1726.0px;width:124.8px;height:39.6px;background:#dcf4ea;border:2px solid #a6e3c8;color:#25c289;font-size:18.5px;font-weight:600;line-height:36px;text-align:left;padding-left:19px;letter-spacing:-0.9px"><span style="display:inline-block;width:10px;height:10px;border-radius:50%;background:#2cba86;margin-right:6.5px;vertical-align:1px;letter-spacing:0"></span>학습 완료</div>
<div class="rline" style="top:1786px"></div>
<div class="td" style="left:101.1px;top:1816.9px;font-weight:700;letter-spacing:-0.75px">EMB-003</div>
<div class="td" style="left:435.7px;top:1816.6px;font-weight:500;letter-spacing:-0.9px">KoE5-large</div>
<div class="tbadge" style="left:903.7px;top:1810.1px;width:90.0px;height:35.4px;padding-top:2px;background:#efe9fd;border-color:#d5c6fb;color:#bea4f6;font-size:19px;line-height:31px;letter-spacing:0">임베딩</div>
<div class="td" style="left:1243.5px;top:1809.9px;font-size:23.2px;font-weight:500;letter-spacing:-1.3px;color:#22c58b">100%</div>
<div class="a" style="left:1244.5px;top:1839.8px;width:477.5px;height:8px;border-radius:4px;background:#efefef;overflow:hidden"><div style="width:100%;height:100%;border-radius:4px;background:linear-gradient(90deg,#16b37e,#34d399)"></div></div>
<div class="td" style="left:1760.5px;top:1815.6px;font-size:24.8px;font-weight:400;letter-spacing:-1.7px">02-08 16:00</div>
<div class="td" style="left:2152.4px;top:1815.6px;font-size:24.8px;font-weight:400;letter-spacing:-1.7px">5h 20m</div>
<div class="td" style="left:2433.2px;top:1815.6px;font-size:24.8px;font-weight:400;letter-spacing:-1.7px">61%</div>
<div class="pill" style="left:2734.2px;top:1808.0px;width:124.8px;height:39.6px;background:#dcf4ea;border:2px solid #a6e3c8;color:#25c289;font-size:18.5px;font-weight:600;line-height:36px;text-align:left;padding-left:19px;letter-spacing:-0.9px"><span style="display:inline-block;width:10px;height:10px;border-radius:50%;background:#2cba86;margin-right:6.5px;vertical-align:1px;letter-spacing:0"></span>학습 완료</div>
<div class="rline" style="top:1868px"></div>
<div class="td" style="left:101.1px;top:1898.9px;font-weight:700;letter-spacing:-0.75px">JOB-990</div>
<div class="td" style="left:435.7px;top:1898.6px;font-weight:500;letter-spacing:-0.9px">Mixtral-8x7B</div>
<div class="tbadge" style="left:903.7px;top:1892.1px;width:89.5px;height:35.4px;padding-top:2px;background:#e1ecf2;border-color:#b8d7e2;color:#73bfd1;font-size:19px;line-height:31px;letter-spacing:1.05px">LoRA</div>
<div class="td" style="left:1243.5px;top:1891.9px;font-size:23.2px;font-weight:500;letter-spacing:-1.3px;color:#ef5b5b">23%</div>
<div class="a" style="left:1244.5px;top:1921.8px;width:477.5px;height:8px;border-radius:4px;background:#efefef;overflow:hidden"><div style="width:23%;height:100%;border-radius:4px;background:#ef4444"></div></div>
<div class="td" style="left:1760.5px;top:1897.6px;font-size:24.8px;font-weight:400;letter-spacing:-1.7px">02-09 18:00</div>
<div class="td" style="left:2152.4px;top:1897.6px;font-size:24.8px;font-weight:400;letter-spacing:-1.7px">0h 45m</div>
<div class="td" style="left:2433.2px;top:1897.8px;font-weight:400;color:#4b5563">—</div>
<div class="pill" style="left:2734.2px;top:1890.0px;width:113.5px;height:39.6px;background:#fce7e9;border:2px solid #f8b5b9;color:#f0656d;font-size:18.5px;font-weight:600;line-height:36px;text-align:left;padding-left:19px;letter-spacing:-0.9px"><span style="display:inline-block;width:10px;height:10px;border-radius:50%;background:#ef5b63;margin-right:6.5px;vertical-align:1px;letter-spacing:0"></span>실패<svg style="display:inline-block;margin-left:12.5px;vertical-align:middle;position:relative;top:-2px" width="8" height="8" viewBox="0 0 8 8"><path d="M1 0.5L7.5 4L1 7.5Z" fill="#f5a0a5"/></svg></div>
<div class="rline" style="top:1950px"></div>
<div class="td" style="left:101.1px;top:1980.9px;font-weight:700;letter-spacing:-0.75px">JOB-993</div>
<div class="td" style="left:435.7px;top:1980.6px;font-weight:500;letter-spacing:-0.9px">Yi-34B-Chat</div>
<div class="tbadge" style="left:903.7px;top:1974.1px;width:105.9px;height:35.4px;padding-top:2px;background:#d9f3e8;border-color:#a3e1c6;color:#4fd09b;font-size:19px;line-height:31px;letter-spacing:1.05px">QLoRA</div>
<div class="td" style="left:1243.5px;top:1973.9px;font-size:23.2px;font-weight:500;letter-spacing:-1.3px;color:#f5b417">0%</div>
<div class="a" style="left:1244.5px;top:2003.8px;width:477.5px;height:8px;border-radius:4px;background:#efefef;overflow:hidden"><div style="width:0%;height:100%;border-radius:4px;background:none"></div></div>
<div class="td" style="left:1760.5px;top:1979.8px;font-weight:400;color:#4b5563">—</div>
<div class="td" style="left:2152.4px;top:1979.8px;font-weight:400;color:#4b5563">—</div>
<div class="td" style="left:2433.2px;top:1979.8px;font-weight:400;color:#4b5563">—</div>
<div class="pill" style="left:2734.2px;top:1972.0px;width:109.1px;height:39.6px;background:#fdf1e0;border:2px solid #fadca6;color:#f2b01e;font-size:18.5px;font-weight:600;line-height:36px;text-align:left;padding-left:19px;letter-spacing:-0.9px"><span style="display:inline-block;width:10px;height:10px;border-radius:50%;background:#f2b01e;margin-right:6.5px;vertical-align:1px;letter-spacing:0"></span>대기 중</div>
<div class="rline" style="top:2032px"></div>
<div class="a" style="left:0;top:957.8px;width:38px;height:88px;background:#e2e8f0;border-radius:0 13px 13px 0;box-shadow:0 2px 10px rgba(30,40,70,0.10)"><svg class="a" style="left:14.5px;top:35.8px" width="12" height="20" viewBox="0 0 12 20"><path d="M0.6 2.4C0.6 1 2.2 0.3 3.2 1.3L10.8 8.8C11.5 9.5 11.5 10.5 10.8 11.2L3.2 18.7C2.2 19.7 0.6 19 0.6 17.6Z" fill="#64748b"/></svg></div>
<div class="a" style="left:3188px;top:126px;width:12px;height:1874px;background:#e2e5ec"></div>
<div class="a" style="left:3188px;top:126px;width:12px;height:1566px;background:#979797;border-radius:0 0 6px 6px"></div>
</body>
</html>
